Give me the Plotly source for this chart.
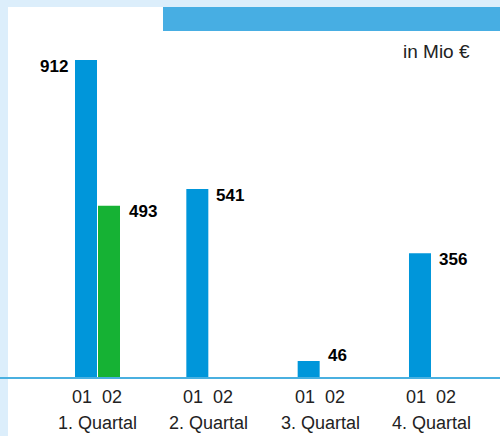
import plotly.graph_objects as go

# ---- data ----
quarters = ["1. Quartal", "2. Quartal", "3. Quartal", "4. Quartal"]
series_names = ["01", "02"]
values_01 = [912, 541, 46, 356]
values_02 = [493, None, None, None]
unit_label = "in Mio €"

# ---- style ----
W, H = 500, 436
BASE_PX = 377          # pixel row of baseline
PX_PER_UNIT = 317 / 912
GROUP_PX = 111.33
FIRST_CENTER_PX = 97.5
BAR_W = 22 / GROUP_PX
BLUE = "#0096da"
GREEN = "#16b234"
LIGHT = "#dceefb"
HEADER = "#47aee3"
AXIS = "#4ab0e0"
FONT = "Liberation Sans, Arial, sans-serif"
TXT = "#222222"

xs = list(range(len(quarters)))
x_lo = -FIRST_CENTER_PX / GROUP_PX
x_hi = x_lo + W / GROUP_PX
y_hi = BASE_PX / PX_PER_UNIT


def py(p):  # pixel row -> paper y
    return (BASE_PX - p) / BASE_PX


def px(p):  # pixel col -> paper x
    return p / W


off01 = -BAR_W - 0.5 / GROUP_PX
off02 = 0.5 / GROUP_PX

fig = go.Figure()
fig.add_trace(go.Bar(x=xs, y=values_01, name=series_names[0], width=BAR_W,
                     offset=off01, marker=dict(color=BLUE, line=dict(width=0))))
fig.add_trace(go.Bar(x=xs, y=values_02, name=series_names[1], width=BAR_W,
                     offset=off02, marker=dict(color=GREEN, line=dict(width=0))))

ann = []
# value labels
side_01 = ["left", "right", "right", "right"]
for i, v in enumerate(values_01):
    if v is None:
        continue
    small = v < 100
    if side_01[i] == "left":
        ann.append(dict(x=i + off01, y=v, xref="x", yref="y", text=f"<b>{v}</b>",
                        xanchor="right", yanchor="middle", xshift=-5,
                        yshift=6 if small else -6.5, showarrow=False,
                        font=dict(family=FONT, size=17, color="black")))
    else:
        ann.append(dict(x=i + off01 + BAR_W, y=v, xref="x", yref="y", text=f"<b>{v}</b>",
                        xanchor="left", yanchor="middle", xshift=6,
                        yshift=6 if small else -6.5, showarrow=False,
                        font=dict(family=FONT, size=17, color="black")))
for i, v in enumerate(values_02):
    if v is None:
        continue
    ann.append(dict(x=i + off02 + BAR_W, y=v, xref="x", yref="y", text=f"<b>{v}</b>",
                    xanchor="left", yanchor="middle", xshift=7, yshift=-6,
                    showarrow=False, font=dict(family=FONT, size=17, color="black")))

# category labels
for i, q in enumerate(quarters):
    ann.append(dict(x=i + off01 + BAR_W / 2, y=py(397), xref="x", yref="paper",
                    text=series_names[0], xanchor="center", yanchor="middle",
                    xshift=-4, showarrow=False,
                    font=dict(family=FONT, size=18, color=TXT)))
    ann.append(dict(x=i + off02 + BAR_W / 2, y=py(397), xref="x", yref="paper",
                    text=series_names[1], xanchor="center", yanchor="middle",
                    xshift=3, showarrow=False,
                    font=dict(family=FONT, size=18, color=TXT)))
    ann.append(dict(x=i, y=py(423), xref="x", yref="paper", text=q,
                    xanchor="center", yanchor="middle", showarrow=False,
                    font=dict(family=FONT, size=18, color=TXT)))

ann.append(dict(x=px(472), y=py(51), xref="paper", yref="paper", text=unit_label,
                xanchor="right", yanchor="middle", showarrow=False,
                font=dict(family=FONT, size=19, color=TXT)))

shapes = [
    dict(type="rect", xref="paper", yref="paper", x0=0, x1=px(8), y0=py(H), y1=py(0),
         fillcolor=LIGHT, line=dict(width=0), layer="below"),
    dict(type="rect", xref="paper", yref="paper", x0=0, x1=1, y0=py(7), y1=py(0),
         fillcolor=LIGHT, line=dict(width=0), layer="below"),
    dict(type="rect", xref="paper", yref="paper", x0=px(163), x1=1, y0=py(31), y1=py(7),
         fillcolor=HEADER, line=dict(width=0), layer="below"),
]

fig.update_layout(
    width=W, height=H,
    margin=dict(l=0, r=0, t=0, b=H - BASE_PX, pad=0),
    paper_bgcolor="white", plot_bgcolor="rgba(0,0,0,0)",
    showlegend=False, barmode="overlay",
    annotations=ann, shapes=shapes,
    xaxis=dict(range=[x_lo, x_hi], showgrid=False, zeroline=False,
               showticklabels=False, ticks="", showline=True,
               linecolor=AXIS, linewidth=2, fixedrange=True),
    yaxis=dict(range=[0, y_hi], showgrid=False, zeroline=False,
               showticklabels=False, ticks="", showline=False, fixedrange=True),
)

fig.write_html("out.html", config={"displayModeBar": False},
               post_script="document.body.style.margin='0';document.body.style.overflow='hidden';")
